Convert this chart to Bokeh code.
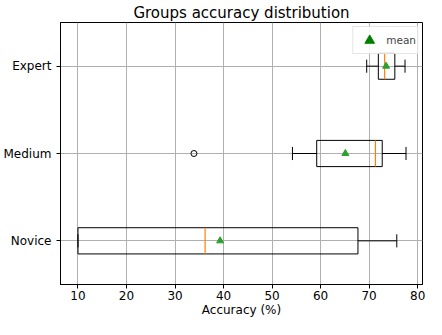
from bokeh.plotting import figure
from bokeh.models import ColumnDataSource, FixedTicker, Range1d, Legend, LegendItem
from bokeh.embed import file_html
from bokeh.resources import INLINE
import numpy as np

# Data
groups = ["Novice", "Medium", "Expert"]
positions = [1, 2, 3]
whisker_lo = [10.0, 54.2, 69.5]
q1 = [10.0, 59.2, 71.9]
median = [36.2, 71.3, 73.2]
q3 = [67.7, 72.7, 75.3]
whisker_hi = [75.7, 77.6, 77.4]
means = [39.3, 65.1, 73.5]
outlier_x = [33.9]
outlier_pos = [2]
x_ticks = [10, 20, 30, 40, 50, 60, 70, 80]

FONT = "DejaVu Sans"
box_w = 0.3
cap_w = 0.15

p = figure(width=426, height=319, output_backend="svg", toolbar_location=None,
           x_range=Range1d(6.4, 81.0), y_range=Range1d(0.5, 3.5),
           min_border_left=58, min_border_right=4, min_border_top=0, min_border_bottom=0)

p.title.text = "Groups accuracy distribution"
p.title.align = "center"
p.title.text_font = FONT
p.title.text_font_size = "15px"
p.title.text_font_style = "normal"
p.title.text_color = "black"
p.title.standoff = 2
p.title.offset = 0

p.background_fill_color = "white"
p.border_fill_color = "white"
p.outline_line_color = "black"
p.outline_line_width = 1

# grid
for g in (p.xgrid, p.ygrid):
    g.grid_line_color = "#b0b0b0"
    g.grid_line_width = 1

# axes
p.xaxis.ticker = FixedTicker(ticks=x_ticks)
p.yaxis.ticker = FixedTicker(ticks=positions)
p.yaxis.major_label_overrides = {pos: g for pos, g in zip(positions, groups)}
p.xaxis.axis_label = "Accuracy (%)"
for ax in (p.xaxis[0], p.yaxis[0]):
    ax.axis_line_color = "black"
    ax.major_tick_line_color = "black"
    ax.major_tick_out = 4
    ax.major_tick_in = 0
    ax.minor_tick_line_color = None
    ax.major_label_text_font = FONT
    ax.major_label_text_font_size = "12px"
    ax.major_label_text_color = "black"
    ax.axis_label_text_font = FONT
    ax.axis_label_text_font_size = "12px"
    ax.axis_label_text_font_style = "normal"
    ax.axis_label_text_color = "black"
p.xaxis.major_label_standoff = 2
p.xaxis.axis_label_standoff = 0
p.yaxis.major_label_standoff = 5

src = ColumnDataSource(dict(
    pos=positions, lo=whisker_lo, q1=q1, med=median, q3=q3, hi=whisker_hi, mean=means,
    bot=[y - box_w / 2 for y in positions], top=[y + box_w / 2 for y in positions],
    cbot=[y - cap_w / 2 for y in positions], ctop=[y + cap_w / 2 for y in positions],
))

# whiskers
p.segment(x0="lo", x1="q1", y0="pos", y1="pos", source=src, line_color="black", line_width=1)
p.segment(x0="q3", x1="hi", y0="pos", y1="pos", source=src, line_color="black", line_width=1)
# caps
p.segment(x0="lo", x1="lo", y0="cbot", y1="ctop", source=src, line_color="black", line_width=1)
p.segment(x0="hi", x1="hi", y0="cbot", y1="ctop", source=src, line_color="black", line_width=1)
# boxes
p.quad(left="q1", right="q3", bottom="bot", top="top", source=src,
       fill_color=None, line_color="black", line_width=1)
# medians
p.segment(x0="med", x1="med", y0="bot", y1="top", source=src, line_color="#ff7f0e", line_width=1.2)
# means
p.scatter(x="mean", y="pos", source=src, marker="triangle", size=7,
          fill_color="#2ca02c", line_color="#2ca02c")
# outliers
p.scatter(x=outlier_x, y=outlier_pos, marker="circle", size=6,
          fill_color=None, line_color="black", line_width=1)

# legend proxy
proxy = p.scatter(x=[np.nan], y=[np.nan], marker="triangle", size=12,
                  fill_color="green", line_color="green")
legend = Legend(items=[LegendItem(label="mean", renderers=[proxy])], location="top_right")
legend.label_text_font = FONT
legend.label_text_font_size = "10.5px"
legend.border_line_color = "#cccccc"
legend.border_line_width = 1
legend.background_fill_alpha = 0.85
legend.margin = 4
legend.padding = 1
legend.spacing = 0
legend.glyph_width = 30
legend.glyph_height = 24
legend.label_height = 24
legend.label_standoff = 2
p.add_layout(legend)

open("out.html", "w").write(file_html(p, INLINE))
